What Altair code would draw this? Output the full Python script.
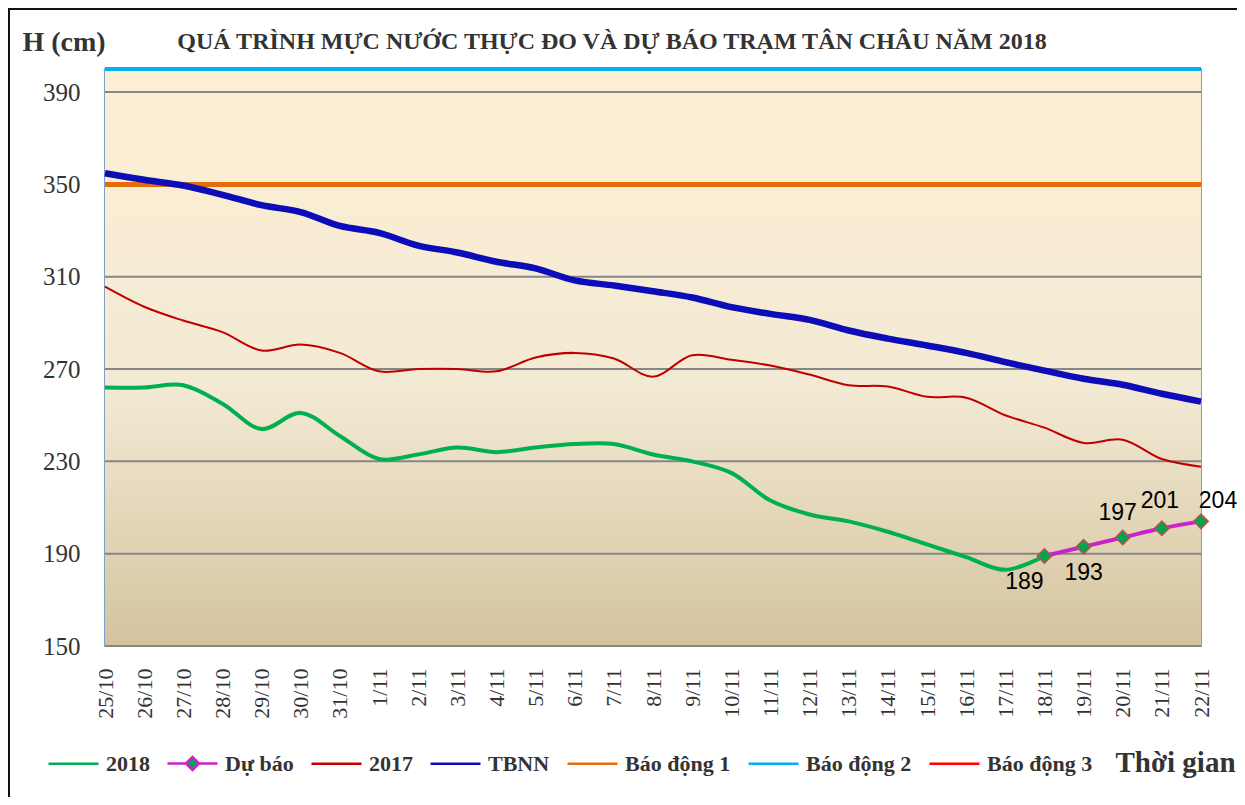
import altair as alt
import pandas as pd

dates = ["25/10", "26/10", "27/10", "28/10", "29/10", "30/10", "31/10",
         "1/11", "2/11", "3/11", "4/11", "5/11", "6/11", "7/11", "8/11",
         "9/11", "10/11", "11/11", "12/11", "13/11", "14/11", "15/11",
         "16/11", "17/11", "18/11", "19/11", "20/11", "21/11", "22/11"]

# Observed 2018 (25/10 -> 18/11)
h2018 = [262, 262, 263, 255, 244, 251, 241, 231, 233, 236, 234, 236, 237.5,
         237.5, 233, 230, 225, 213, 207, 204, 199.5, 194, 188.5, 183, 189]
# Forecast (18/11 -> 22/11)
forecast_dates = ["18/11", "19/11", "20/11", "21/11", "22/11"]
forecast = [189, 193, 197, 201, 204]
# Same period 2017
h2017 = [305.7, 297, 291, 286, 278, 280.6, 277, 269, 270, 270, 269, 275, 277,
         274.6, 266.7, 276, 274, 271.5, 267.6, 263, 262.4, 258, 257.6, 250,
         244.6, 238, 239.4, 231, 227.7]
# Long-term mean (TBNN)
tbnn = [354.8, 352, 349.5, 345.5, 341, 338, 332, 329, 323.5, 320.5, 316.5,
        313.6, 308.4, 306.2, 303.7, 301, 296.8, 293.9, 291.3, 286.7, 283.2,
        280.2, 277, 273, 269.3, 265.8, 263.2, 259.3, 255.9]
# Alarm levels
alarm_names = ["Báo động 1", "Báo động 2", "Báo động 3"]
alarm_levels = [350, 400, 450]

y_ticks = [150, 190, 230, 270, 310, 350, 390]

series = ["2018", "Dự báo", "2017", "TBNN", "Báo động 1", "Báo động 2", "Báo động 3"]
colors = ["#00B050", "#CC22CC", "#C00000", "#0C0CB8", "#E46C0A", "#00B0F0", "#FF0000"]
fills = ["transparent", "#00A550", "transparent", "transparent", "transparent",
         "transparent", "transparent"]
LINE = "M-1,0H1"
DIAMOND = "M-1,0H-0.26M0.26,0H1M-0.26,0L0,-0.26L0.26,0L0,0.26Z"
shapes = [LINE, DIAMOND, LINE, LINE, LINE, LINE, LINE]
color_of = dict(zip(series, colors))

TITLE = "QUÁ TRÌNH MỰC NƯỚC THỰC ĐO VÀ DỰ BÁO TRẠM TÂN CHÂU NĂM 2018"

rows = []
for d, v in zip(dates, h2018):
    rows.append({"date": d, "series": "2018", "value": v})
for d, v in zip(forecast_dates, forecast):
    rows.append({"date": d, "series": "Dự báo", "value": v})
for d, v in zip(dates, h2017):
    rows.append({"date": d, "series": "2017", "value": v})
for d, v in zip(dates, tbnn):
    rows.append({"date": d, "series": "TBNN", "value": v})
df = pd.DataFrame(rows)
alarm_df = pd.DataFrame({"series": alarm_names, "value": alarm_levels})
grid_df = pd.DataFrame({"value": y_ticks})

SERIF = "Liberation Serif"
TXT = "#333333"

stroke_scale = alt.Scale(domain=series, range=colors)
fill_scale = alt.Scale(domain=series, range=fills)
shape_scale = alt.Scale(domain=series, range=shapes)

x_enc = alt.X("date:O", sort=dates, scale=alt.Scale(type="point", padding=0),
              axis=alt.Axis(title="Thời gian", labelAngle=270, labelFont=SERIF,
                            labelFontSize=22, labelColor=TXT, labelPadding=22,
                            ticks=False, domain=False, grid=False,
                            titleFont=SERIF, titleFontSize=29, titleFontWeight="bold",
                            titleColor=TXT, titleAngle=0, titleX=1010, titleY=116,
                            titleAlign="left", titleBaseline="middle"))
y_scale = alt.Scale(domain=[150, 400], nice=False, zero=False)
y_enc = alt.Y("value:Q", scale=y_scale,
              axis=alt.Axis(values=y_ticks, title="H (cm)", labelFont=SERIF,
                            labelFontSize=25, labelColor=TXT, labelPadding=25,
                            ticks=False, domain=False, grid=False,
                            titleFont=SERIF, titleFontSize=28, titleFontWeight="bold",
                            titleColor=TXT, titleAngle=0, titleX=-83, titleY=-27,
                            titleAlign="left", titleBaseline="middle"))

bg = alt.Chart(alt.Data(values=[{}])).mark_rect(
    fill=alt.LinearGradient(
        gradient="linear", x1=0, x2=0, y1=0, y2=1,
        stops=[alt.GradientStop(color="#FDEFD2", offset=0),
               alt.GradientStop(color="#F3EAD5", offset=0.55),
               alt.GradientStop(color="#D4C49E", offset=1)])
).encode(x=alt.value(0), x2=alt.value("width"), y=alt.value(0), y2=alt.value("height"))

grid = alt.Chart(grid_df).mark_rule(color="#868686", strokeWidth=2).encode(y=y_enc)


def alarm_layer(name, width, clip=False):
    return alt.Chart(alarm_df).transform_filter(alt.datum.series == name).mark_rule(
        strokeWidth=width, color=color_of[name], clip=clip).encode(y=y_enc)


alarm1 = alarm_layer("Báo động 1", 5)
alarm2 = alarm_layer("Báo động 2", 4)
alarm3 = alarm_layer("Báo động 3", 4, clip=True)


def line_layer(name, width):
    return alt.Chart(df).transform_filter(alt.datum.series == name).mark_line(
        strokeWidth=width, interpolate="catmull-rom", color=color_of[name]
    ).encode(x=x_enc, y=y_enc)


l2017 = line_layer("2017", 2)
ltbnn = line_layer("TBNN", 6.5)
l2018 = line_layer("2018", 4)
lfc = line_layer("Dự báo", 4)

fc_pts = alt.Chart(df).transform_filter(alt.datum.series == "Dự báo").mark_point(
    shape="diamond", filled=True, size=210, fill="#00A550", stroke="#C0504D",
    strokeWidth=1.5, opacity=1
).encode(x=x_enc, y=y_enc)

label_offsets = {"18/11": (-20, 26), "19/11": (0, 26), "20/11": (-5, -25),
                 "21/11": (-2, -27), "22/11": (17, -20)}
labels = []
for d, (dx, dy) in label_offsets.items():
    labels.append(
        alt.Chart(df).transform_filter(
            (alt.datum.series == "Dự báo") & (alt.datum.date == d)
        ).mark_text(font="Liberation Sans", fontSize=23, color="#000000",
                    dx=dx, dy=dy, align="center", baseline="middle")
        .encode(x=x_enc, y=y_enc, text=alt.Text("value:Q"))
    )

leg_params = alt.Legend(title=None, orient="none", legendX=-58, legendY=668,
                        direction="horizontal", columns=7, symbolSize=2500,
                        symbolStrokeWidth=2.5, labelFont=SERIF, labelFontSize=22,
                        labelFontWeight="bold", labelColor=TXT, labelOffset=6,
                        columnPadding=12, labelLimit=300)
legend_layer = alt.Chart(df).transform_filter("false").mark_point(
    filled=True, size=2500, opacity=1
).encode(
    x=x_enc, y=y_enc,
    stroke=alt.Stroke("series:N", scale=stroke_scale, legend=leg_params),
    fill=alt.Fill("series:N", scale=fill_scale, legend=leg_params),
    shape=alt.Shape("series:N", scale=shape_scale, legend=leg_params),
)

title_text = alt.Chart(alt.Data(values=[{"t": TITLE}])).mark_text(
    font=SERIF, fontSize=24, fontWeight="bold", color=TXT,
    align="center", baseline="middle"
).encode(x=alt.value(507), y=alt.value(-27), text="t:N")

# outer chart frame (left and top edges are the only ones inside the picture)
frame_left = alt.Chart(alt.Data(values=[{}])).mark_rule(
    color="#111111", strokeWidth=2
).encode(x=alt.value(-96), y=alt.value(-61), y2=alt.value(740))
frame_top = alt.Chart(alt.Data(values=[{}])).mark_rule(
    color="#111111", strokeWidth=2
).encode(x=alt.value(-97), x2=alt.value(1132), y=alt.value(-60))

chart = alt.layer(
    bg, grid, alarm1, alarm2, alarm3, l2017, ltbnn, l2018, lfc, fc_pts,
    *labels, legend_layer, title_text, frame_left, frame_top
).properties(
    width=1096, height=577,
    autosize=alt.AutoSizeParams(type="none"),
    padding={"left": 97, "top": 61, "right": 36, "bottom": 151},
    background="white",
).configure_view(stroke="#4F81BD", strokeWidth=1.5)

chart.save("out.html", embed_options={"renderer": "svg", "actions": False})
